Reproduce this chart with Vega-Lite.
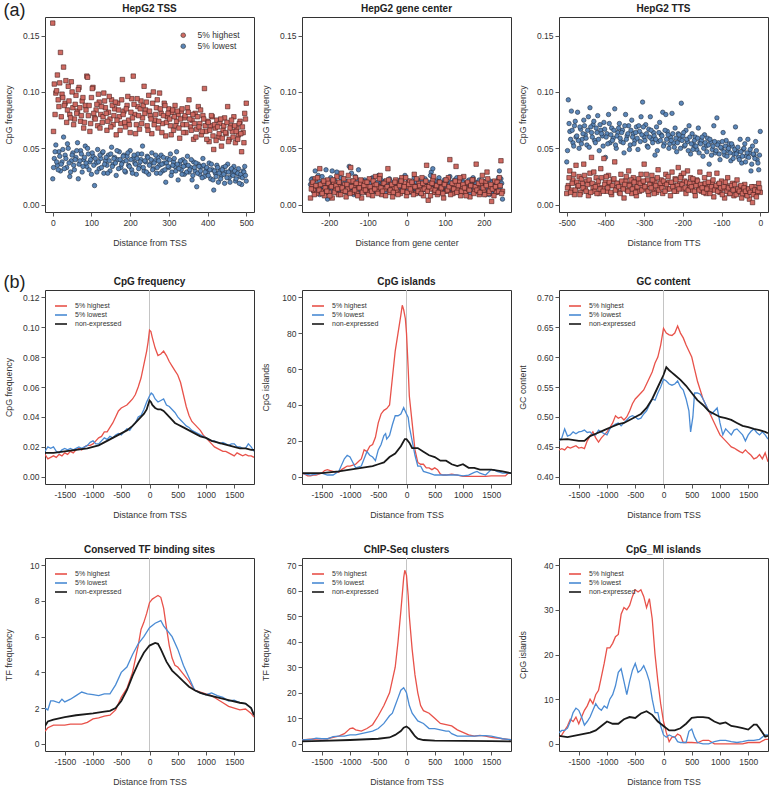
{
"$schema": "https://vega.github.io/schema/vega-lite/v6.json",
"padding": {"left": 3, "top": 1, "right": 0, "bottom": 0},
"config": {
 "font": "Liberation Sans",
 "view": {"stroke": "#333333", "strokeWidth": 1},
 "axis": {"grid": false, "domain": false, "tickColor": "#555555", "tickSize": 4, "labelFontSize": 8.5, "labelColor": "#333333", "labelPadding": 2, "titleFontSize": 8.8, "titleFontWeight": "normal", "titleColor": "#333333", "labelFlush": false, "labelOverlap": false},
 "axisY": {"titleX": -32},
 "axisX": {"titlePadding": 12, "labelOverlap": false},
 "title": {"fontSize": 10, "fontWeight": "bold", "color": "#222222", "offset": 3},
 "legend": {"orient": "top-left", "offset": 11, "title": null, "labelFontSize": 7, "labelColor": "#333333", "symbolType": "M-1.5,0H1.5", "symbolSize": 64, "symbolStrokeWidth": 1.6, "rowPadding": 0, "padding": 0, "labelOffset": 9}
},
"datasets": {
"tss_h": [{"x":0,"y":0.161},{"x":4,"y":0.107},{"x":8,"y":0.099},{"x":12,"y":0.115},{"x":16,"y":0.087},{"x":20,"y":0.135},{"x":24,"y":0.098},{"x":28,"y":0.122},{"x":32,"y":0.09},{"x":36,"y":0.073},{"x":40,"y":0.105},{"x":44,"y":0.08},{"x":48,"y":0.109},{"x":52,"y":0.086},{"x":56,"y":0.076},{"x":60,"y":0.097},{"x":64,"y":0.083},{"x":68,"y":0.104},{"x":72,"y":0.074},{"x":76,"y":0.092},{"x":80,"y":0.068},{"x":84,"y":0.088},{"x":88,"y":0.114},{"x":92,"y":0.079},{"x":96,"y":0.065},{"x":100,"y":0.095},{"x":104,"y":0.104},{"x":108,"y":0.077},{"x":112,"y":0.084},{"x":116,"y":0.07},{"x":120,"y":0.091},{"x":124,"y":0.08},{"x":128,"y":0.073},{"x":132,"y":0.099},{"x":136,"y":0.086},{"x":140,"y":0.066},{"x":144,"y":0.082},{"x":148,"y":0.076},{"x":152,"y":0.093},{"x":156,"y":0.071},{"x":160,"y":0.085},{"x":164,"y":0.062},{"x":168,"y":0.09},{"x":172,"y":0.078},{"x":176,"y":0.072},{"x":180,"y":0.111},{"x":184,"y":0.083},{"x":188,"y":0.069},{"x":192,"y":0.088},{"x":196,"y":0.075},{"x":200,"y":0.064},{"x":204,"y":0.094},{"x":208,"y":0.114},{"x":212,"y":0.08},{"x":216,"y":0.071},{"x":220,"y":0.087},{"x":224,"y":0.067},{"x":228,"y":0.092},{"x":232,"y":0.077},{"x":236,"y":0.105},{"x":240,"y":0.084},{"x":244,"y":0.07},{"x":248,"y":0.097},{"x":252,"y":0.079},{"x":256,"y":0.063},{"x":260,"y":0.1},{"x":264,"y":0.075},{"x":268,"y":0.086},{"x":272,"y":0.068},{"x":276,"y":0.099},{"x":280,"y":0.081},{"x":284,"y":0.072},{"x":288,"y":0.09},{"x":292,"y":0.061},{"x":296,"y":0.078},{"x":300,"y":0.085},{"x":304,"y":0.07},{"x":308,"y":0.082},{"x":312,"y":0.066},{"x":316,"y":0.088},{"x":320,"y":0.074},{"x":324,"y":0.08},{"x":328,"y":0.059},{"x":332,"y":0.083},{"x":336,"y":0.071},{"x":340,"y":0.077},{"x":344,"y":0.064},{"x":348,"y":0.086},{"x":352,"y":0.093},{"x":356,"y":0.069},{"x":360,"y":0.075},{"x":364,"y":0.058},{"x":368,"y":0.081},{"x":372,"y":0.067},{"x":376,"y":0.087},{"x":380,"y":0.072},{"x":384,"y":0.062},{"x":388,"y":0.079},{"x":392,"y":0.103},{"x":396,"y":0.065},{"x":400,"y":0.074},{"x":404,"y":0.056},{"x":408,"y":0.07},{"x":412,"y":0.078},{"x":416,"y":0.049},{"x":420,"y":0.068},{"x":424,"y":0.075},{"x":428,"y":0.06},{"x":432,"y":0.072},{"x":436,"y":0.052},{"x":440,"y":0.066},{"x":444,"y":0.077},{"x":448,"y":0.063},{"x":452,"y":0.087},{"x":456,"y":0.058},{"x":460,"y":0.07},{"x":464,"y":0.065},{"x":468,"y":0.078},{"x":472,"y":0.055},{"x":476,"y":0.068},{"x":480,"y":0.062},{"x":484,"y":0.074},{"x":488,"y":0.047},{"x":492,"y":0.064},{"x":496,"y":0.081},{"x":500,"y":0.09},
{"x":2,"y":0.065},{"x":6,"y":0.08},{"x":10,"y":0.101},{"x":14,"y":0.093},{"x":18,"y":0.108},{"x":22,"y":0.078},{"x":26,"y":0.095},{"x":30,"y":0.088},{"x":34,"y":0.11},{"x":38,"y":0.084},{"x":42,"y":0.092},{"x":46,"y":0.077},{"x":50,"y":0.1},{"x":54,"y":0.071},{"x":58,"y":0.089},{"x":62,"y":0.081},{"x":66,"y":0.102},{"x":70,"y":0.086},{"x":74,"y":0.079},{"x":78,"y":0.095},{"x":82,"y":0.073},{"x":86,"y":0.084},{"x":90,"y":0.113},{"x":94,"y":0.088},{"x":98,"y":0.072},{"x":102,"y":0.103},{"x":106,"y":0.081},{"x":110,"y":0.076},{"x":114,"y":0.089},{"x":118,"y":0.098},{"x":122,"y":0.068},{"x":126,"y":0.087},{"x":130,"y":0.078},{"x":134,"y":0.092},{"x":138,"y":0.081},{"x":142,"y":0.074},{"x":146,"y":0.096},{"x":150,"y":0.069},{"x":154,"y":0.088},{"x":158,"y":0.079},{"x":162,"y":0.091},{"x":166,"y":0.075},{"x":170,"y":0.084},{"x":174,"y":0.066},{"x":178,"y":0.093},{"x":182,"y":0.08},{"x":186,"y":0.073},{"x":190,"y":0.085},{"x":194,"y":0.096},{"x":198,"y":0.071},{"x":202,"y":0.082},{"x":206,"y":0.077},{"x":210,"y":0.089},{"x":214,"y":0.063},{"x":218,"y":0.094},{"x":222,"y":0.079},{"x":226,"y":0.085},{"x":230,"y":0.072},{"x":234,"y":0.088},{"x":238,"y":0.081},{"x":242,"y":0.091},{"x":246,"y":0.066},{"x":250,"y":0.083},{"x":254,"y":0.076},{"x":258,"y":0.09},{"x":262,"y":0.071},{"x":266,"y":0.08},{"x":270,"y":0.093},{"x":274,"y":0.074},{"x":278,"y":0.085},{"x":282,"y":0.064},{"x":286,"y":0.079},{"x":290,"y":0.088},{"x":294,"y":0.073},{"x":298,"y":0.081},{"x":302,"y":0.076},{"x":306,"y":0.062},{"x":310,"y":0.084},{"x":314,"y":0.078},{"x":318,"y":0.07},{"x":322,"y":0.083},{"x":326,"y":0.068},{"x":330,"y":0.076},{"x":334,"y":0.085},{"x":338,"y":0.064},{"x":342,"y":0.079},{"x":346,"y":0.071},{"x":350,"y":0.082},{"x":354,"y":0.076},{"x":358,"y":0.066},{"x":362,"y":0.08},{"x":366,"y":0.072},{"x":370,"y":0.06},{"x":374,"y":0.078},{"x":378,"y":0.069},{"x":382,"y":0.084},{"x":386,"y":0.065},{"x":390,"y":0.076},{"x":394,"y":0.07},{"x":398,"y":0.058},{"x":402,"y":0.073},{"x":406,"y":0.066},{"x":410,"y":0.079},{"x":414,"y":0.061},{"x":418,"y":0.071},{"x":422,"y":0.057},{"x":426,"y":0.069},{"x":430,"y":0.063},{"x":434,"y":0.076},{"x":438,"y":0.059},{"x":442,"y":0.07},{"x":446,"y":0.064},{"x":450,"y":0.073},{"x":454,"y":0.056},{"x":458,"y":0.068},{"x":462,"y":0.075},{"x":466,"y":0.06},{"x":470,"y":0.07},{"x":474,"y":0.065},{"x":478,"y":0.058},{"x":482,"y":0.072},{"x":486,"y":0.063},{"x":490,"y":0.069},{"x":494,"y":0.055},{"x":498,"y":0.076}],
"tss_l": [{"x":0,"y":0.023},{"x":4,"y":0.041},{"x":8,"y":0.053},{"x":12,"y":0.035},{"x":16,"y":0.047},{"x":20,"y":0.03},{"x":24,"y":0.038},{"x":28,"y":0.06},{"x":32,"y":0.044},{"x":36,"y":0.033},{"x":40,"y":0.05},{"x":44,"y":0.025},{"x":48,"y":0.039},{"x":52,"y":0.046},{"x":56,"y":0.031},{"x":60,"y":0.042},{"x":64,"y":0.055},{"x":68,"y":0.036},{"x":72,"y":0.048},{"x":76,"y":0.029},{"x":80,"y":0.04},{"x":84,"y":0.052},{"x":88,"y":0.034},{"x":92,"y":0.045},{"x":96,"y":0.038},{"x":100,"y":0.027},{"x":104,"y":0.043},{"x":108,"y":0.017},{"x":112,"y":0.037},{"x":116,"y":0.049},{"x":120,"y":0.032},{"x":124,"y":0.041},{"x":128,"y":0.046},{"x":132,"y":0.028},{"x":136,"y":0.039},{"x":140,"y":0.035},{"x":144,"y":0.044},{"x":148,"y":0.03},{"x":152,"y":0.051},{"x":156,"y":0.036},{"x":160,"y":0.042},{"x":164,"y":0.026},{"x":168,"y":0.04},{"x":172,"y":0.047},{"x":176,"y":0.033},{"x":180,"y":0.038},{"x":184,"y":0.044},{"x":188,"y":0.029},{"x":192,"y":0.043},{"x":196,"y":0.035},{"x":200,"y":0.048},{"x":204,"y":0.031},{"x":208,"y":0.041},{"x":212,"y":0.037},{"x":216,"y":0.027},{"x":220,"y":0.045},{"x":224,"y":0.034},{"x":228,"y":0.04},{"x":232,"y":0.052},{"x":236,"y":0.03},{"x":240,"y":0.038},{"x":244,"y":0.043},{"x":248,"y":0.027},{"x":252,"y":0.036},{"x":256,"y":0.046},{"x":260,"y":0.032},{"x":264,"y":0.039},{"x":268,"y":0.028},{"x":272,"y":0.042},{"x":276,"y":0.035},{"x":280,"y":0.044},{"x":284,"y":0.03},{"x":288,"y":0.037},{"x":292,"y":0.02},{"x":296,"y":0.041},{"x":300,"y":0.033},{"x":304,"y":0.045},{"x":308,"y":0.029},{"x":312,"y":0.038},{"x":316,"y":0.034},{"x":320,"y":0.047},{"x":324,"y":0.022},{"x":328,"y":0.036},{"x":332,"y":0.031},{"x":336,"y":0.04},{"x":340,"y":0.027},{"x":344,"y":0.035},{"x":348,"y":0.043},{"x":352,"y":0.029},{"x":356,"y":0.033},{"x":360,"y":0.022},{"x":364,"y":0.038},{"x":368,"y":0.03},{"x":372,"y":0.016},{"x":376,"y":0.036},{"x":380,"y":0.027},{"x":384,"y":0.034},{"x":388,"y":0.041},{"x":392,"y":0.025},{"x":396,"y":0.032},{"x":400,"y":0.029},{"x":404,"y":0.037},{"x":408,"y":0.023},{"x":412,"y":0.031},{"x":416,"y":0.013},{"x":420,"y":0.028},{"x":424,"y":0.035},{"x":428,"y":0.02},{"x":432,"y":0.03},{"x":436,"y":0.026},{"x":440,"y":0.033},{"x":444,"y":0.019},{"x":448,"y":0.029},{"x":452,"y":0.036},{"x":456,"y":0.024},{"x":460,"y":0.031},{"x":464,"y":0.027},{"x":468,"y":0.034},{"x":472,"y":0.021},{"x":476,"y":0.028},{"x":480,"y":0.032},{"x":484,"y":0.025},{"x":488,"y":0.018},{"x":492,"y":0.03},{"x":496,"y":0.034},{"x":500,"y":0.021},
{"x":2,"y":0.033},{"x":6,"y":0.047},{"x":10,"y":0.038},{"x":14,"y":0.031},{"x":18,"y":0.043},{"x":22,"y":0.036},{"x":26,"y":0.049},{"x":30,"y":0.032},{"x":34,"y":0.041},{"x":38,"y":0.054},{"x":42,"y":0.037},{"x":46,"y":0.029},{"x":50,"y":0.044},{"x":54,"y":0.035},{"x":58,"y":0.04},{"x":62,"y":0.048},{"x":66,"y":0.023},{"x":70,"y":0.039},{"x":74,"y":0.045},{"x":78,"y":0.034},{"x":82,"y":0.042},{"x":86,"y":0.037},{"x":90,"y":0.05},{"x":94,"y":0.031},{"x":98,"y":0.04},{"x":102,"y":0.046},{"x":106,"y":0.035},{"x":110,"y":0.041},{"x":114,"y":0.029},{"x":118,"y":0.038},{"x":122,"y":0.044},{"x":126,"y":0.033},{"x":130,"y":0.047},{"x":134,"y":0.036},{"x":138,"y":0.042},{"x":142,"y":0.028},{"x":146,"y":0.039},{"x":150,"y":0.045},{"x":154,"y":0.034},{"x":158,"y":0.041},{"x":162,"y":0.037},{"x":166,"y":0.048},{"x":170,"y":0.032},{"x":174,"y":0.04},{"x":178,"y":0.036},{"x":182,"y":0.043},{"x":186,"y":0.03},{"x":190,"y":0.039},{"x":194,"y":0.046},{"x":198,"y":0.034},{"x":202,"y":0.04},{"x":206,"y":0.028},{"x":210,"y":0.044},{"x":214,"y":0.036},{"x":218,"y":0.041},{"x":222,"y":0.032},{"x":226,"y":0.038},{"x":230,"y":0.045},{"x":234,"y":0.033},{"x":238,"y":0.039},{"x":242,"y":0.029},{"x":246,"y":0.042},{"x":250,"y":0.035},{"x":254,"y":0.04},{"x":258,"y":0.031},{"x":262,"y":0.037},{"x":266,"y":0.044},{"x":270,"y":0.033},{"x":274,"y":0.039},{"x":278,"y":0.028},{"x":282,"y":0.036},{"x":286,"y":0.042},{"x":290,"y":0.031},{"x":294,"y":0.037},{"x":298,"y":0.034},{"x":302,"y":0.04},{"x":306,"y":0.026},{"x":310,"y":0.035},{"x":314,"y":0.041},{"x":318,"y":0.03},{"x":322,"y":0.036},{"x":326,"y":0.032},{"x":330,"y":0.039},{"x":334,"y":0.027},{"x":338,"y":0.034},{"x":342,"y":0.038},{"x":346,"y":0.029},{"x":350,"y":0.035},{"x":354,"y":0.031},{"x":358,"y":0.04},{"x":362,"y":0.026},{"x":366,"y":0.033},{"x":370,"y":0.037},{"x":374,"y":0.028},{"x":378,"y":0.034},{"x":382,"y":0.03},{"x":386,"y":0.024},{"x":390,"y":0.035},{"x":394,"y":0.029},{"x":398,"y":0.033},{"x":402,"y":0.026},{"x":406,"y":0.031},{"x":410,"y":0.036},{"x":414,"y":0.022},{"x":418,"y":0.03},{"x":422,"y":0.025},{"x":426,"y":0.033},{"x":430,"y":0.028},{"x":434,"y":0.023},{"x":438,"y":0.031},{"x":442,"y":0.027},{"x":446,"y":0.034},{"x":450,"y":0.024},{"x":454,"y":0.029},{"x":458,"y":0.02},{"x":462,"y":0.032},{"x":466,"y":0.026},{"x":470,"y":0.03},{"x":474,"y":0.023},{"x":478,"y":0.028},{"x":482,"y":0.019},{"x":486,"y":0.027},{"x":490,"y":0.024},{"x":494,"y":0.029},{"x":498,"y":0.026}],
"gc_h": [{"x":-248,"y":0.006},{"x":-244,"y":0.018},{"x":-240,"y":0.013},{"x":-236,"y":0.023},{"x":-232,"y":0.01},{"x":-228,"y":0.016},{"x":-224,"y":0.032},{"x":-220,"y":0.012},{"x":-216,"y":0.019},{"x":-212,"y":0.008},{"x":-208,"y":0.015},{"x":-204,"y":0.022},{"x":-200,"y":0.011},{"x":-196,"y":0.017},{"x":-192,"y":0.006},{"x":-188,"y":0.02},{"x":-184,"y":0.013},{"x":-180,"y":0.025},{"x":-176,"y":0.009},{"x":-172,"y":0.016},{"x":-168,"y":0.028},{"x":-164,"y":0.012},{"x":-160,"y":0.018},{"x":-156,"y":0.007},{"x":-152,"y":0.014},{"x":-148,"y":0.021},{"x":-144,"y":0.033},{"x":-140,"y":0.011},{"x":-136,"y":0.017},{"x":-132,"y":0.024},{"x":-128,"y":0.01},{"x":-124,"y":0.015},{"x":-120,"y":0.019},{"x":-116,"y":0.006},{"x":-112,"y":0.013},{"x":-108,"y":0.02},{"x":-104,"y":0.016},{"x":-100,"y":0.011},{"x":-96,"y":0.023},{"x":-92,"y":0.014},{"x":-88,"y":0.008},{"x":-84,"y":0.018},{"x":-80,"y":0.025},{"x":-76,"y":0.012},{"x":-72,"y":0.016},{"x":-68,"y":0.026},{"x":-64,"y":0.009},{"x":-60,"y":0.019},{"x":-56,"y":0.014},{"x":-52,"y":0.021},{"x":-48,"y":0.032},{"x":-44,"y":0.011},{"x":-40,"y":0.017},{"x":-36,"y":0.007},{"x":-32,"y":0.015},{"x":-28,"y":0.022},{"x":-24,"y":0.012},{"x":-20,"y":0.018},{"x":-16,"y":0.01},{"x":-12,"y":0.024},{"x":-8,"y":0.014},{"x":-4,"y":0.019},{"x":0,"y":0.008},{"x":4,"y":0.016},{"x":8,"y":0.021},{"x":12,"y":0.012},{"x":16,"y":0.017},{"x":20,"y":0.027},{"x":24,"y":0.01},{"x":28,"y":0.015},{"x":32,"y":0.019},{"x":36,"y":0.013},{"x":40,"y":0.024},{"x":44,"y":0.008},{"x":48,"y":0.016},{"x":52,"y":0.035},{"x":56,"y":0.004},{"x":60,"y":0.018},{"x":64,"y":0.014},{"x":68,"y":0.022},{"x":72,"y":0.011},{"x":76,"y":0.017},{"x":80,"y":0.009},{"x":84,"y":0.02},{"x":88,"y":0.013},{"x":92,"y":0.016},{"x":96,"y":0.006},{"x":100,"y":0.019},{"x":104,"y":0.012},{"x":108,"y":0.024},{"x":112,"y":0.04},{"x":116,"y":0.015},{"x":120,"y":0.01},{"x":124,"y":0.018},{"x":128,"y":0.034},{"x":132,"y":0.013},{"x":136,"y":0.021},{"x":140,"y":0.008},{"x":144,"y":0.016},{"x":148,"y":0.025},{"x":152,"y":0.011},{"x":156,"y":0.019},{"x":160,"y":0.014},{"x":164,"y":0.007},{"x":168,"y":0.017},{"x":172,"y":0.022},{"x":176,"y":0.012},{"x":180,"y":0.036},{"x":184,"y":0.015},{"x":188,"y":0.009},{"x":192,"y":0.018},{"x":196,"y":0.026},{"x":200,"y":0.013},{"x":204,"y":0.02},{"x":208,"y":0.029},{"x":212,"y":0.01},{"x":216,"y":0.016},{"x":220,"y":0.003},{"x":224,"y":0.014},{"x":228,"y":0.021},{"x":232,"y":0.011},{"x":236,"y":0.017},{"x":240,"y":0.024},{"x":244,"y":0.039},{"x":248,"y":0.012},
{"x":-246,"y":0.014},{"x":-242,"y":0.02},{"x":-238,"y":0.009},{"x":-234,"y":0.017},{"x":-230,"y":0.024},{"x":-226,"y":0.013},{"x":-222,"y":0.018},{"x":-218,"y":0.01},{"x":-214,"y":0.021},{"x":-210,"y":0.015},{"x":-206,"y":0.012},{"x":-202,"y":0.019},{"x":-198,"y":0.008},{"x":-194,"y":0.016},{"x":-190,"y":0.022},{"x":-186,"y":0.011},{"x":-182,"y":0.017},{"x":-178,"y":0.014},{"x":-174,"y":0.02},{"x":-170,"y":0.009},{"x":-166,"y":0.015},{"x":-162,"y":0.023},{"x":-158,"y":0.012},{"x":-154,"y":0.018},{"x":-150,"y":0.026},{"x":-146,"y":0.01},{"x":-142,"y":0.016},{"x":-138,"y":0.021},{"x":-134,"y":0.013},{"x":-130,"y":0.019},{"x":-126,"y":0.008},{"x":-122,"y":0.015},{"x":-118,"y":0.022},{"x":-114,"y":0.011},{"x":-110,"y":0.017},{"x":-106,"y":0.013},{"x":-102,"y":0.02},{"x":-98,"y":0.009},{"x":-94,"y":0.016},{"x":-90,"y":0.012},{"x":-86,"y":0.021},{"x":-82,"y":0.014},{"x":-78,"y":0.018},{"x":-74,"y":0.01},{"x":-70,"y":0.023},{"x":-66,"y":0.015},{"x":-62,"y":0.012},{"x":-58,"y":0.019},{"x":-54,"y":0.008},{"x":-50,"y":0.016},{"x":-46,"y":0.022},{"x":-42,"y":0.013},{"x":-38,"y":0.018},{"x":-34,"y":0.011},{"x":-30,"y":0.02},{"x":-26,"y":0.015},{"x":-22,"y":0.009},{"x":-18,"y":0.017},{"x":-14,"y":0.021},{"x":-10,"y":0.012},{"x":-6,"y":0.016},{"x":-2,"y":0.024},{"x":2,"y":0.011},{"x":6,"y":0.018},{"x":10,"y":0.014},{"x":14,"y":0.02},{"x":18,"y":0.009},{"x":22,"y":0.016},{"x":26,"y":0.023},{"x":30,"y":0.012},{"x":34,"y":0.017},{"x":38,"y":0.01},{"x":42,"y":0.019},{"x":46,"y":0.014},{"x":50,"y":0.021},{"x":54,"y":0.012},{"x":58,"y":0.016},{"x":62,"y":0.008},{"x":66,"y":0.019},{"x":70,"y":0.025},{"x":74,"y":0.013},{"x":78,"y":0.017},{"x":82,"y":0.011},{"x":86,"y":0.02},{"x":90,"y":0.015},{"x":94,"y":0.01},{"x":98,"y":0.018},{"x":102,"y":0.022},{"x":106,"y":0.013},{"x":110,"y":0.016},{"x":114,"y":0.009},{"x":118,"y":0.019},{"x":122,"y":0.014},{"x":126,"y":0.021},{"x":130,"y":0.011},{"x":134,"y":0.017},{"x":138,"y":0.024},{"x":142,"y":0.012},{"x":146,"y":0.018},{"x":150,"y":0.015},{"x":154,"y":0.008},{"x":158,"y":0.02},{"x":162,"y":0.013},{"x":166,"y":0.017},{"x":170,"y":0.022},{"x":174,"y":0.01},{"x":178,"y":0.016},{"x":182,"y":0.013},{"x":186,"y":0.019},{"x":190,"y":0.011},{"x":194,"y":0.021},{"x":198,"y":0.015},{"x":202,"y":0.009},{"x":206,"y":0.017},{"x":210,"y":0.023},{"x":214,"y":0.012},{"x":218,"y":0.018},{"x":222,"y":0.014},{"x":226,"y":0.008},{"x":230,"y":0.016},{"x":234,"y":0.02},{"x":238,"y":0.012},{"x":242,"y":0.017},{"x":246,"y":0.01}],
"gc_l": [{"x":-248,"y":0.018},{"x":-244,"y":0.023},{"x":-240,"y":0.012},{"x":-236,"y":0.03},{"x":-232,"y":0.015},{"x":-228,"y":0.026},{"x":-224,"y":0.009},{"x":-220,"y":0.019},{"x":-216,"y":0.014},{"x":-212,"y":0.021},{"x":-208,"y":0.031},{"x":-204,"y":0.005},{"x":-200,"y":0.016},{"x":-196,"y":0.024},{"x":-192,"y":0.03},{"x":-188,"y":0.013},{"x":-184,"y":0.018},{"x":-180,"y":0.029},{"x":-176,"y":0.011},{"x":-172,"y":0.02},{"x":-168,"y":0.015},{"x":-164,"y":0.023},{"x":-160,"y":0.017},{"x":-156,"y":0.012},{"x":-152,"y":0.019},{"x":-148,"y":0.034},{"x":-144,"y":0.014},{"x":-140,"y":0.021},{"x":-136,"y":0.009},{"x":-132,"y":0.025},{"x":-128,"y":0.016},{"x":-124,"y":0.031},{"x":-120,"y":0.013},{"x":-116,"y":0.019},{"x":-112,"y":0.015},{"x":-108,"y":0.022},{"x":-104,"y":0.011},{"x":-100,"y":0.017},{"x":-96,"y":0.02},{"x":-92,"y":0.013},{"x":-88,"y":0.024},{"x":-84,"y":0.016},{"x":-80,"y":0.012},{"x":-76,"y":0.019},{"x":-72,"y":0.026},{"x":-68,"y":0.014},{"x":-64,"y":0.018},{"x":-60,"y":0.01},{"x":-56,"y":0.021},{"x":-52,"y":0.015},{"x":-48,"y":0.017},{"x":-44,"y":0.023},{"x":-40,"y":0.012},{"x":-36,"y":0.019},{"x":-32,"y":0.014},{"x":-28,"y":0.02},{"x":-24,"y":0.016},{"x":-20,"y":0.011},{"x":-16,"y":0.022},{"x":-12,"y":0.015},{"x":-8,"y":0.018},{"x":-4,"y":0.026},{"x":0,"y":0.013},{"x":4,"y":0.02},{"x":8,"y":0.016},{"x":12,"y":0.011},{"x":16,"y":0.019},{"x":20,"y":0.024},{"x":24,"y":0.014},{"x":28,"y":0.017},{"x":32,"y":0.021},{"x":36,"y":0.01},{"x":40,"y":0.018},{"x":44,"y":0.015},{"x":48,"y":0.023},{"x":52,"y":0.013},{"x":56,"y":0.019},{"x":60,"y":0.016},{"x":64,"y":0.029},{"x":68,"y":0.032},{"x":72,"y":0.012},{"x":76,"y":0.02},{"x":80,"y":0.015},{"x":84,"y":0.024},{"x":88,"y":0.011},{"x":92,"y":0.018},{"x":96,"y":0.014},{"x":100,"y":0.021},{"x":104,"y":0.016},{"x":108,"y":0.019},{"x":112,"y":0.025},{"x":116,"y":0.013},{"x":120,"y":0.018},{"x":124,"y":0.022},{"x":128,"y":0.015},{"x":132,"y":0.011},{"x":136,"y":0.02},{"x":140,"y":0.017},{"x":144,"y":0.023},{"x":148,"y":0.014},{"x":152,"y":0.019},{"x":156,"y":0.012},{"x":160,"y":0.021},{"x":164,"y":0.016},{"x":168,"y":0.018},{"x":172,"y":0.024},{"x":176,"y":0.013},{"x":180,"y":0.019},{"x":184,"y":0.015},{"x":188,"y":0.022},{"x":192,"y":0.011},{"x":196,"y":0.017},{"x":200,"y":0.02},{"x":204,"y":0.009},{"x":208,"y":0.016},{"x":212,"y":0.013},{"x":216,"y":0.021},{"x":220,"y":0.01},{"x":224,"y":0.018},{"x":228,"y":0.015},{"x":232,"y":0.012},{"x":236,"y":0.019},{"x":240,"y":0.03},{"x":244,"y":0.023},{"x":248,"y":0.005},
{"x":-246,"y":0.022},{"x":-242,"y":0.014},{"x":-238,"y":0.019},{"x":-234,"y":0.011},{"x":-230,"y":0.017},{"x":-226,"y":0.021},{"x":-222,"y":0.013},{"x":-218,"y":0.025},{"x":-214,"y":0.016},{"x":-210,"y":0.01},{"x":-206,"y":0.018},{"x":-202,"y":0.014},{"x":-198,"y":0.02},{"x":-194,"y":0.012},{"x":-190,"y":0.017},{"x":-186,"y":0.022},{"x":-182,"y":0.015},{"x":-178,"y":0.01},{"x":-174,"y":0.019},{"x":-170,"y":0.024},{"x":-166,"y":0.013},{"x":-162,"y":0.017},{"x":-158,"y":0.021},{"x":-154,"y":0.011},{"x":-150,"y":0.018},{"x":-146,"y":0.015},{"x":-142,"y":0.028},{"x":-138,"y":0.012},{"x":-134,"y":0.019},{"x":-130,"y":0.016},{"x":-126,"y":0.022},{"x":-122,"y":0.01},{"x":-118,"y":0.017},{"x":-114,"y":0.021},{"x":-110,"y":0.013},{"x":-106,"y":0.018},{"x":-102,"y":0.015},{"x":-98,"y":0.011},{"x":-94,"y":0.019},{"x":-90,"y":0.023},{"x":-86,"y":0.014},{"x":-82,"y":0.017},{"x":-78,"y":0.012},{"x":-74,"y":0.02},{"x":-70,"y":0.016},{"x":-66,"y":0.022},{"x":-62,"y":0.013},{"x":-58,"y":0.018},{"x":-54,"y":0.011},{"x":-50,"y":0.019},{"x":-46,"y":0.015},{"x":-42,"y":0.021},{"x":-38,"y":0.013},{"x":-34,"y":0.017},{"x":-30,"y":0.01},{"x":-26,"y":0.02},{"x":-22,"y":0.016},{"x":-18,"y":0.013},{"x":-14,"y":0.019},{"x":-10,"y":0.023},{"x":-6,"y":0.012},{"x":-2,"y":0.017},{"x":2,"y":0.014},{"x":6,"y":0.021},{"x":10,"y":0.016},{"x":14,"y":0.012},{"x":18,"y":0.018},{"x":22,"y":0.015},{"x":26,"y":0.02},{"x":30,"y":0.011},{"x":34,"y":0.017},{"x":38,"y":0.022},{"x":42,"y":0.013},{"x":46,"y":0.019},{"x":50,"y":0.016},{"x":54,"y":0.012},{"x":58,"y":0.02},{"x":62,"y":0.026},{"x":66,"y":0.015},{"x":70,"y":0.018},{"x":74,"y":0.011},{"x":78,"y":0.021},{"x":82,"y":0.017},{"x":86,"y":0.013},{"x":90,"y":0.019},{"x":94,"y":0.015},{"x":98,"y":0.022},{"x":102,"y":0.012},{"x":106,"y":0.018},{"x":110,"y":0.014},{"x":114,"y":0.02},{"x":118,"y":0.016},{"x":122,"y":0.011},{"x":126,"y":0.019},{"x":130,"y":0.024},{"x":134,"y":0.014},{"x":138,"y":0.017},{"x":142,"y":0.012},{"x":146,"y":0.02},{"x":150,"y":0.015},{"x":154,"y":0.018},{"x":158,"y":0.013},{"x":162,"y":0.022},{"x":166,"y":0.01},{"x":170,"y":0.017},{"x":174,"y":0.014},{"x":178,"y":0.02},{"x":182,"y":0.016},{"x":186,"y":0.012},{"x":190,"y":0.019},{"x":194,"y":0.015},{"x":198,"y":0.021},{"x":202,"y":0.011},{"x":206,"y":0.018},{"x":210,"y":0.014},{"x":214,"y":0.009},{"x":218,"y":0.017},{"x":222,"y":0.02},{"x":226,"y":0.013},{"x":230,"y":0.016},{"x":234,"y":0.011},{"x":238,"y":0.024},{"x":242,"y":0.015},{"x":246,"y":0.019}],
"tts_h": [{"x":-500,"y":0.01},{"x":-496,"y":0.017},{"x":-492,"y":0.03},{"x":-488,"y":0.013},{"x":-484,"y":0.022},{"x":-480,"y":0.009},{"x":-476,"y":0.035},{"x":-472,"y":0.016},{"x":-468,"y":0.025},{"x":-464,"y":0.011},{"x":-460,"y":0.019},{"x":-456,"y":0.036},{"x":-452,"y":0.014},{"x":-448,"y":0.021},{"x":-444,"y":0.008},{"x":-440,"y":0.028},{"x":-436,"y":0.042},{"x":-432,"y":0.015},{"x":-428,"y":0.012},{"x":-424,"y":0.024},{"x":-420,"y":0.018},{"x":-416,"y":0.01},{"x":-412,"y":0.032},{"x":-408,"y":0.015},{"x":-404,"y":0.041},{"x":-400,"y":0.02},{"x":-396,"y":0.012},{"x":-392,"y":0.026},{"x":-388,"y":0.017},{"x":-384,"y":0.009},{"x":-380,"y":0.022},{"x":-376,"y":0.038},{"x":-372,"y":0.014},{"x":-368,"y":0.019},{"x":-364,"y":0.011},{"x":-360,"y":0.027},{"x":-356,"y":0.016},{"x":-352,"y":0.006},{"x":-348,"y":0.021},{"x":-344,"y":0.013},{"x":-340,"y":0.03},{"x":-336,"y":0.018},{"x":-332,"y":0.01},{"x":-328,"y":0.024},{"x":-324,"y":0.015},{"x":-320,"y":0.008},{"x":-316,"y":0.02},{"x":-312,"y":0.012},{"x":-308,"y":0.027},{"x":-304,"y":0.017},{"x":-300,"y":0.036},{"x":-296,"y":0.014},{"x":-292,"y":0.022},{"x":-288,"y":0.009},{"x":-284,"y":0.018},{"x":-280,"y":0.026},{"x":-276,"y":0.013},{"x":-272,"y":0.02},{"x":-268,"y":0.011},{"x":-264,"y":0.031},{"x":-260,"y":0.016},{"x":-256,"y":0.022},{"x":-252,"y":0.01},{"x":-248,"y":0.019},{"x":-244,"y":0.027},{"x":-240,"y":0.014},{"x":-236,"y":0.02},{"x":-232,"y":0.008},{"x":-228,"y":0.029},{"x":-224,"y":0.017},{"x":-220,"y":0.023},{"x":-216,"y":0.012},{"x":-212,"y":0.033},{"x":-208,"y":0.019},{"x":-204,"y":0.026},{"x":-200,"y":0.014},{"x":-196,"y":0.021},{"x":-192,"y":0.01},{"x":-188,"y":0.03},{"x":-184,"y":0.017},{"x":-180,"y":0.024},{"x":-176,"y":0.013},{"x":-172,"y":0.019},{"x":-168,"y":0.008},{"x":-164,"y":0.022},{"x":-160,"y":0.015},{"x":-156,"y":0.029},{"x":-152,"y":0.012},{"x":-148,"y":0.018},{"x":-144,"y":0.024},{"x":-140,"y":0.01},{"x":-136,"y":0.016},{"x":-132,"y":0.027},{"x":-128,"y":0.013},{"x":-124,"y":0.02},{"x":-120,"y":0.007},{"x":-116,"y":0.015},{"x":-112,"y":0.028},{"x":-108,"y":0.018},{"x":-104,"y":0.011},{"x":-100,"y":0.021},{"x":-96,"y":0.014},{"x":-92,"y":0.006},{"x":-88,"y":0.017},{"x":-84,"y":0.024},{"x":-80,"y":0.01},{"x":-76,"y":0.015},{"x":-72,"y":0.019},{"x":-68,"y":0.008},{"x":-64,"y":0.013},{"x":-60,"y":0.022},{"x":-56,"y":0.011},{"x":-52,"y":0.016},{"x":-48,"y":0.006},{"x":-44,"y":0.012},{"x":-40,"y":0.018},{"x":-36,"y":0.009},{"x":-32,"y":0.014},{"x":-28,"y":0.005},{"x":-24,"y":0.011},{"x":-20,"y":0.002},{"x":-16,"y":0.016},{"x":-12,"y":0.009},{"x":-8,"y":0.013},{"x":-4,"y":0.019},{"x":0,"y":0.011},
{"x":-498,"y":0.015},{"x":-494,"y":0.024},{"x":-490,"y":0.011},{"x":-486,"y":0.019},{"x":-482,"y":0.027},{"x":-478,"y":0.013},{"x":-474,"y":0.02},{"x":-470,"y":0.017},{"x":-466,"y":0.009},{"x":-462,"y":0.023},{"x":-458,"y":0.015},{"x":-454,"y":0.026},{"x":-450,"y":0.012},{"x":-446,"y":0.018},{"x":-442,"y":0.022},{"x":-438,"y":0.011},{"x":-434,"y":0.019},{"x":-430,"y":0.029},{"x":-426,"y":0.016},{"x":-422,"y":0.01},{"x":-418,"y":0.021},{"x":-414,"y":0.014},{"x":-410,"y":0.024},{"x":-406,"y":0.012},{"x":-402,"y":0.018},{"x":-398,"y":0.025},{"x":-394,"y":0.015},{"x":-390,"y":0.02},{"x":-386,"y":0.011},{"x":-382,"y":0.017},{"x":-378,"y":0.023},{"x":-374,"y":0.013},{"x":-370,"y":0.019},{"x":-366,"y":0.016},{"x":-362,"y":0.01},{"x":-358,"y":0.021},{"x":-354,"y":0.014},{"x":-350,"y":0.018},{"x":-346,"y":0.025},{"x":-342,"y":0.012},{"x":-338,"y":0.017},{"x":-334,"y":0.022},{"x":-330,"y":0.014},{"x":-326,"y":0.02},{"x":-322,"y":0.011},{"x":-318,"y":0.016},{"x":-314,"y":0.023},{"x":-310,"y":0.019},{"x":-306,"y":0.013},{"x":-302,"y":0.021},{"x":-298,"y":0.016},{"x":-294,"y":0.027},{"x":-290,"y":0.012},{"x":-286,"y":0.018},{"x":-282,"y":0.015},{"x":-278,"y":0.022},{"x":-274,"y":0.01},{"x":-270,"y":0.017},{"x":-266,"y":0.024},{"x":-262,"y":0.013},{"x":-258,"y":0.019},{"x":-254,"y":0.015},{"x":-250,"y":0.021},{"x":-246,"y":0.012},{"x":-242,"y":0.018},{"x":-238,"y":0.025},{"x":-234,"y":0.014},{"x":-230,"y":0.02},{"x":-226,"y":0.016},{"x":-222,"y":0.012},{"x":-218,"y":0.022},{"x":-214,"y":0.017},{"x":-210,"y":0.014},{"x":-206,"y":0.024},{"x":-202,"y":0.018},{"x":-198,"y":0.028},{"x":-194,"y":0.015},{"x":-190,"y":0.02},{"x":-186,"y":0.013},{"x":-182,"y":0.019},{"x":-178,"y":0.016},{"x":-174,"y":0.023},{"x":-170,"y":0.012},{"x":-166,"y":0.017},{"x":-162,"y":0.021},{"x":-158,"y":0.013},{"x":-154,"y":0.018},{"x":-150,"y":0.015},{"x":-146,"y":0.011},{"x":-142,"y":0.019},{"x":-138,"y":0.014},{"x":-134,"y":0.02},{"x":-130,"y":0.01},{"x":-126,"y":0.016},{"x":-122,"y":0.022},{"x":-118,"y":0.013},{"x":-114,"y":0.017},{"x":-110,"y":0.012},{"x":-106,"y":0.019},{"x":-102,"y":0.015},{"x":-98,"y":0.009},{"x":-94,"y":0.016},{"x":-90,"y":0.02},{"x":-86,"y":0.012},{"x":-82,"y":0.015},{"x":-78,"y":0.01},{"x":-74,"y":0.017},{"x":-70,"y":0.013},{"x":-66,"y":0.018},{"x":-62,"y":0.009},{"x":-58,"y":0.014},{"x":-54,"y":0.012},{"x":-50,"y":0.017},{"x":-46,"y":0.01},{"x":-42,"y":0.015},{"x":-38,"y":0.012},{"x":-34,"y":0.008},{"x":-30,"y":0.014},{"x":-26,"y":0.011},{"x":-22,"y":0.016},{"x":-18,"y":0.009},{"x":-14,"y":0.013},{"x":-10,"y":0.007},{"x":-6,"y":0.012},{"x":-2,"y":0.015}],
"tts_l": [{"x":-500,"y":0.038},{"x":-496,"y":0.093},{"x":-492,"y":0.065},{"x":-488,"y":0.083},{"x":-484,"y":0.055},{"x":-480,"y":0.07},{"x":-476,"y":0.06},{"x":-472,"y":0.082},{"x":-468,"y":0.05},{"x":-464,"y":0.067},{"x":-460,"y":0.058},{"x":-456,"y":0.075},{"x":-452,"y":0.062},{"x":-448,"y":0.053},{"x":-444,"y":0.078},{"x":-440,"y":0.086},{"x":-436,"y":0.064},{"x":-432,"y":0.071},{"x":-428,"y":0.057},{"x":-424,"y":0.068},{"x":-420,"y":0.079},{"x":-416,"y":0.048},{"x":-412,"y":0.066},{"x":-408,"y":0.061},{"x":-404,"y":0.073},{"x":-400,"y":0.042},{"x":-396,"y":0.063},{"x":-392,"y":0.08},{"x":-388,"y":0.055},{"x":-384,"y":0.068},{"x":-380,"y":0.059},{"x":-376,"y":0.085},{"x":-372,"y":0.05},{"x":-368,"y":0.064},{"x":-364,"y":0.072},{"x":-360,"y":0.056},{"x":-356,"y":0.066},{"x":-352,"y":0.046},{"x":-348,"y":0.08},{"x":-344,"y":0.061},{"x":-340,"y":0.07},{"x":-336,"y":0.053},{"x":-332,"y":0.075},{"x":-328,"y":0.063},{"x":-324,"y":0.057},{"x":-320,"y":0.069},{"x":-316,"y":0.049},{"x":-312,"y":0.065},{"x":-308,"y":0.078},{"x":-304,"y":0.091},{"x":-300,"y":0.06},{"x":-296,"y":0.071},{"x":-292,"y":0.052},{"x":-288,"y":0.067},{"x":-284,"y":0.078},{"x":-280,"y":0.058},{"x":-276,"y":0.064},{"x":-272,"y":0.044},{"x":-268,"y":0.069},{"x":-264,"y":0.056},{"x":-260,"y":0.073},{"x":-256,"y":0.062},{"x":-252,"y":0.082},{"x":-248,"y":0.054},{"x":-244,"y":0.08},{"x":-240,"y":0.065},{"x":-236,"y":0.05},{"x":-232,"y":0.06},{"x":-228,"y":0.081},{"x":-224,"y":0.055},{"x":-220,"y":0.068},{"x":-216,"y":0.047},{"x":-212,"y":0.063},{"x":-208,"y":0.058},{"x":-204,"y":0.09},{"x":-200,"y":0.061},{"x":-196,"y":0.052},{"x":-192,"y":0.066},{"x":-188,"y":0.056},{"x":-184,"y":0.07},{"x":-180,"y":0.045},{"x":-176,"y":0.063},{"x":-172,"y":0.053},{"x":-168,"y":0.06},{"x":-164,"y":0.049},{"x":-160,"y":0.068},{"x":-156,"y":0.055},{"x":-152,"y":0.057},{"x":-148,"y":0.043},{"x":-144,"y":0.062},{"x":-140,"y":0.052},{"x":-136,"y":0.059},{"x":-132,"y":0.036},{"x":-128,"y":0.056},{"x":-124,"y":0.049},{"x":-120,"y":0.07},{"x":-116,"y":0.046},{"x":-112,"y":0.077},{"x":-108,"y":0.055},{"x":-104,"y":0.04},{"x":-100,"y":0.05},{"x":-96,"y":0.064},{"x":-92,"y":0.044},{"x":-88,"y":0.057},{"x":-84,"y":0.048},{"x":-80,"y":0.054},{"x":-76,"y":0.039},{"x":-72,"y":0.052},{"x":-68,"y":0.045},{"x":-64,"y":0.069},{"x":-60,"y":0.047},{"x":-56,"y":0.042},{"x":-52,"y":0.058},{"x":-48,"y":0.037},{"x":-44,"y":0.049},{"x":-40,"y":0.054},{"x":-36,"y":0.043},{"x":-32,"y":0.058},{"x":-28,"y":0.046},{"x":-24,"y":0.03},{"x":-20,"y":0.052},{"x":-16,"y":0.044},{"x":-12,"y":0.056},{"x":-8,"y":0.04},{"x":-4,"y":0.031},{"x":0,"y":0.065},
{"x":-498,"y":0.048},{"x":-494,"y":0.072},{"x":-490,"y":0.058},{"x":-486,"y":0.066},{"x":-482,"y":0.052},{"x":-478,"y":0.074},{"x":-474,"y":0.061},{"x":-470,"y":0.057},{"x":-466,"y":0.069},{"x":-462,"y":0.054},{"x":-458,"y":0.063},{"x":-454,"y":0.07},{"x":-450,"y":0.059},{"x":-446,"y":0.066},{"x":-442,"y":0.051},{"x":-438,"y":0.069},{"x":-434,"y":0.06},{"x":-430,"y":0.074},{"x":-426,"y":0.055},{"x":-422,"y":0.064},{"x":-418,"y":0.058},{"x":-414,"y":0.071},{"x":-410,"y":0.063},{"x":-406,"y":0.052},{"x":-402,"y":0.067},{"x":-398,"y":0.06},{"x":-394,"y":0.054},{"x":-390,"y":0.072},{"x":-386,"y":0.062},{"x":-382,"y":0.057},{"x":-378,"y":0.066},{"x":-374,"y":0.053},{"x":-370,"y":0.061},{"x":-366,"y":0.068},{"x":-362,"y":0.059},{"x":-358,"y":0.064},{"x":-354,"y":0.055},{"x":-350,"y":0.07},{"x":-346,"y":0.058},{"x":-342,"y":0.063},{"x":-338,"y":0.049},{"x":-334,"y":0.066},{"x":-330,"y":0.06},{"x":-326,"y":0.054},{"x":-322,"y":0.064},{"x":-318,"y":0.059},{"x":-314,"y":0.07},{"x":-310,"y":0.056},{"x":-306,"y":0.062},{"x":-302,"y":0.069},{"x":-298,"y":0.057},{"x":-294,"y":0.063},{"x":-290,"y":0.051},{"x":-286,"y":0.06},{"x":-282,"y":0.066},{"x":-278,"y":0.055},{"x":-274,"y":0.061},{"x":-270,"y":0.058},{"x":-266,"y":0.048},{"x":-262,"y":0.064},{"x":-258,"y":0.057},{"x":-254,"y":0.061},{"x":-250,"y":0.052},{"x":-246,"y":0.066},{"x":-242,"y":0.058},{"x":-238,"y":0.062},{"x":-234,"y":0.054},{"x":-230,"y":0.057},{"x":-226,"y":0.063},{"x":-222,"y":0.051},{"x":-218,"y":0.059},{"x":-214,"y":0.055},{"x":-210,"y":0.062},{"x":-206,"y":0.05},{"x":-202,"y":0.057},{"x":-198,"y":0.064},{"x":-194,"y":0.053},{"x":-190,"y":0.058},{"x":-186,"y":0.048},{"x":-182,"y":0.06},{"x":-178,"y":0.054},{"x":-174,"y":0.049},{"x":-170,"y":0.057},{"x":-166,"y":0.052},{"x":-162,"y":0.059},{"x":-158,"y":0.046},{"x":-154,"y":0.054},{"x":-150,"y":0.06},{"x":-146,"y":0.05},{"x":-142,"y":0.055},{"x":-138,"y":0.047},{"x":-134,"y":0.053},{"x":-130,"y":0.058},{"x":-126,"y":0.044},{"x":-122,"y":0.052},{"x":-118,"y":0.056},{"x":-114,"y":0.048},{"x":-110,"y":0.053},{"x":-106,"y":0.045},{"x":-102,"y":0.051},{"x":-98,"y":0.056},{"x":-94,"y":0.047},{"x":-90,"y":0.052},{"x":-86,"y":0.043},{"x":-82,"y":0.05},{"x":-78,"y":0.046},{"x":-74,"y":0.054},{"x":-70,"y":0.041},{"x":-66,"y":0.049},{"x":-62,"y":0.045},{"x":-58,"y":0.051},{"x":-54,"y":0.04},{"x":-50,"y":0.047},{"x":-46,"y":0.043},{"x":-42,"y":0.05},{"x":-38,"y":0.038},{"x":-34,"y":0.046},{"x":-30,"y":0.042},{"x":-26,"y":0.049},{"x":-22,"y":0.036},{"x":-18,"y":0.045},{"x":-14,"y":0.041},{"x":-10,"y":0.048},{"x":-6,"y":0.037},{"x":-2,"y":0.044}],
"cpg_h": [{"x":-1850,"y":0.015},{"x":-1800,"y":0.012},{"x":-1750,"y":0.013},{"x":-1700,"y":0.014},{"x":-1650,"y":0.013},{"x":-1600,"y":0.015},{"x":-1550,"y":0.014},{"x":-1500,"y":0.016},{"x":-1450,"y":0.015},{"x":-1400,"y":0.017},{"x":-1350,"y":0.016},{"x":-1300,"y":0.018},{"x":-1250,"y":0.019},{"x":-1200,"y":0.018},{"x":-1150,"y":0.02},{"x":-1100,"y":0.021},{"x":-1050,"y":0.021},{"x":-1000,"y":0.022},{"x":-950,"y":0.024},{"x":-900,"y":0.026},{"x":-850,"y":0.027},{"x":-800,"y":0.03},{"x":-750,"y":0.03},{"x":-700,"y":0.033},{"x":-650,"y":0.036},{"x":-600,"y":0.04},{"x":-550,"y":0.044},{"x":-500,"y":0.046},{"x":-450,"y":0.047},{"x":-400,"y":0.048},{"x":-350,"y":0.05},{"x":-300,"y":0.052},{"x":-250,"y":0.055},{"x":-200,"y":0.06},{"x":-150,"y":0.066},{"x":-100,"y":0.075},{"x":-50,"y":0.084},{"x":-25,"y":0.09},{"x":0,"y":0.098},{"x":25,"y":0.097},{"x":50,"y":0.093},{"x":100,"y":0.086},{"x":150,"y":0.081},{"x":200,"y":0.082},{"x":250,"y":0.084},{"x":300,"y":0.081},{"x":350,"y":0.077},{"x":400,"y":0.074},{"x":450,"y":0.071},{"x":500,"y":0.068},{"x":550,"y":0.063},{"x":600,"y":0.055},{"x":650,"y":0.047},{"x":700,"y":0.041},{"x":750,"y":0.037},{"x":800,"y":0.035},{"x":850,"y":0.033},{"x":900,"y":0.031},{"x":950,"y":0.028},{"x":1000,"y":0.026},{"x":1050,"y":0.024},{"x":1100,"y":0.022},{"x":1150,"y":0.02},{"x":1200,"y":0.019},{"x":1250,"y":0.018},{"x":1300,"y":0.017},{"x":1350,"y":0.017},{"x":1400,"y":0.016},{"x":1450,"y":0.015},{"x":1500,"y":0.014},{"x":1550,"y":0.016},{"x":1600,"y":0.015},{"x":1650,"y":0.014},{"x":1700,"y":0.015},{"x":1750,"y":0.014},{"x":1800,"y":0.014},{"x":1850,"y":0.013}],
"cpg_l": [{"x":-1850,"y":0.017},{"x":-1800,"y":0.02},{"x":-1750,"y":0.019},{"x":-1700,"y":0.02},{"x":-1650,"y":0.017},{"x":-1600,"y":0.016},{"x":-1550,"y":0.018},{"x":-1500,"y":0.019},{"x":-1450,"y":0.018},{"x":-1400,"y":0.019},{"x":-1350,"y":0.018},{"x":-1300,"y":0.019},{"x":-1250,"y":0.02},{"x":-1200,"y":0.019},{"x":-1150,"y":0.02},{"x":-1100,"y":0.021},{"x":-1050,"y":0.023},{"x":-1000,"y":0.024},{"x":-950,"y":0.022},{"x":-900,"y":0.022},{"x":-850,"y":0.024},{"x":-800,"y":0.026},{"x":-750,"y":0.025},{"x":-700,"y":0.027},{"x":-650,"y":0.026},{"x":-600,"y":0.028},{"x":-550,"y":0.029},{"x":-500,"y":0.028},{"x":-450,"y":0.03},{"x":-400,"y":0.032},{"x":-350,"y":0.031},{"x":-300,"y":0.034},{"x":-250,"y":0.036},{"x":-200,"y":0.04},{"x":-150,"y":0.041},{"x":-100,"y":0.045},{"x":-50,"y":0.05},{"x":0,"y":0.054},{"x":30,"y":0.056},{"x":60,"y":0.055},{"x":100,"y":0.052},{"x":150,"y":0.05},{"x":200,"y":0.051},{"x":250,"y":0.052},{"x":300,"y":0.048},{"x":350,"y":0.047},{"x":400,"y":0.045},{"x":450,"y":0.043},{"x":500,"y":0.04},{"x":550,"y":0.038},{"x":600,"y":0.036},{"x":650,"y":0.034},{"x":700,"y":0.033},{"x":750,"y":0.031},{"x":800,"y":0.03},{"x":850,"y":0.029},{"x":900,"y":0.028},{"x":950,"y":0.027},{"x":1000,"y":0.026},{"x":1050,"y":0.025},{"x":1100,"y":0.024},{"x":1150,"y":0.024},{"x":1200,"y":0.023},{"x":1250,"y":0.022},{"x":1300,"y":0.023},{"x":1350,"y":0.022},{"x":1400,"y":0.021},{"x":1450,"y":0.022},{"x":1500,"y":0.022},{"x":1550,"y":0.02},{"x":1600,"y":0.02},{"x":1650,"y":0.019},{"x":1700,"y":0.019},{"x":1750,"y":0.022},{"x":1800,"y":0.02},{"x":1850,"y":0.017}],
"cpg_n": [{"x":-1850,"y":0.016},{"x":-1700,"y":0.016},{"x":-1500,"y":0.017},{"x":-1300,"y":0.018},{"x":-1100,"y":0.019},{"x":-1000,"y":0.02},{"x":-900,"y":0.021},{"x":-800,"y":0.023},{"x":-700,"y":0.025},{"x":-600,"y":0.027},{"x":-500,"y":0.029},{"x":-400,"y":0.031},{"x":-300,"y":0.034},{"x":-200,"y":0.038},{"x":-150,"y":0.04},{"x":-100,"y":0.042},{"x":-50,"y":0.045},{"x":0,"y":0.051},{"x":25,"y":0.05},{"x":50,"y":0.048},{"x":100,"y":0.046},{"x":150,"y":0.045},{"x":200,"y":0.045},{"x":250,"y":0.044},{"x":300,"y":0.042},{"x":350,"y":0.04},{"x":400,"y":0.038},{"x":450,"y":0.036},{"x":500,"y":0.035},{"x":600,"y":0.033},{"x":700,"y":0.031},{"x":800,"y":0.029},{"x":900,"y":0.027},{"x":1000,"y":0.026},{"x":1100,"y":0.024},{"x":1200,"y":0.023},{"x":1300,"y":0.022},{"x":1400,"y":0.021},{"x":1500,"y":0.02},{"x":1600,"y":0.019},{"x":1700,"y":0.019},{"x":1800,"y":0.018},{"x":1850,"y":0.018}],
"isl_h": [{"x":-1850,"y":2},{"x":-1800,"y":1.5},{"x":-1750,"y":0.5},{"x":-1700,"y":0.5},{"x":-1650,"y":1},{"x":-1600,"y":1},{"x":-1550,"y":1.5},{"x":-1500,"y":2},{"x":-1450,"y":3.5},{"x":-1400,"y":4},{"x":-1350,"y":3.5},{"x":-1300,"y":3},{"x":-1250,"y":2.5},{"x":-1200,"y":2.5},{"x":-1150,"y":4},{"x":-1100,"y":5},{"x":-1050,"y":6},{"x":-1000,"y":6},{"x":-950,"y":6.5},{"x":-900,"y":7},{"x":-850,"y":8.5},{"x":-800,"y":10},{"x":-750,"y":15},{"x":-700,"y":14},{"x":-650,"y":17},{"x":-600,"y":18},{"x":-550,"y":22},{"x":-500,"y":30},{"x":-450,"y":35},{"x":-400,"y":37},{"x":-350,"y":38},{"x":-300,"y":40},{"x":-250,"y":55},{"x":-200,"y":70},{"x":-150,"y":80},{"x":-100,"y":90},{"x":-75,"y":95.5},{"x":-50,"y":93},{"x":-20,"y":88},{"x":0,"y":80},{"x":30,"y":60},{"x":50,"y":45},{"x":100,"y":30},{"x":150,"y":15},{"x":200,"y":8},{"x":250,"y":7},{"x":300,"y":7},{"x":350,"y":5},{"x":400,"y":5},{"x":450,"y":4},{"x":500,"y":5},{"x":550,"y":4},{"x":600,"y":1.5},{"x":650,"y":1},{"x":700,"y":1},{"x":800,"y":1.5},{"x":900,"y":1},{"x":1000,"y":0.3},{"x":1100,"y":0.3},{"x":1200,"y":0.3},{"x":1300,"y":0.3},{"x":1400,"y":0.3},{"x":1500,"y":0.5},{"x":1600,"y":0.5},{"x":1700,"y":0.5},{"x":1750,"y":0.5},{"x":1800,"y":2},{"x":1850,"y":2}],
"isl_l": [{"x":-1850,"y":2},{"x":-1700,"y":1},{"x":-1600,"y":1.5},{"x":-1500,"y":2},{"x":-1400,"y":1},{"x":-1300,"y":1},{"x":-1200,"y":3},{"x":-1100,"y":10},{"x":-1050,"y":12},{"x":-1000,"y":11},{"x":-950,"y":8},{"x":-900,"y":5},{"x":-800,"y":6},{"x":-750,"y":10},{"x":-700,"y":14},{"x":-650,"y":12},{"x":-600,"y":11},{"x":-550,"y":9},{"x":-500,"y":15},{"x":-450,"y":18},{"x":-400,"y":23},{"x":-370,"y":24},{"x":-350,"y":21},{"x":-300,"y":23},{"x":-250,"y":29},{"x":-200,"y":34},{"x":-150,"y":34},{"x":-100,"y":35},{"x":-50,"y":38.5},{"x":0,"y":35},{"x":30,"y":33},{"x":50,"y":28},{"x":100,"y":20},{"x":150,"y":12},{"x":200,"y":6},{"x":250,"y":6},{"x":300,"y":3},{"x":400,"y":2},{"x":500,"y":1},{"x":600,"y":1},{"x":700,"y":1},{"x":800,"y":1},{"x":900,"y":1},{"x":1000,"y":0.5},{"x":1100,"y":1},{"x":1200,"y":2.5},{"x":1250,"y":3},{"x":1300,"y":2},{"x":1400,"y":1},{"x":1500,"y":4},{"x":1550,"y":4},{"x":1600,"y":3},{"x":1700,"y":2},{"x":1850,"y":2}],
"isl_n": [{"x":-1850,"y":2},{"x":-1500,"y":2},{"x":-1200,"y":3},{"x":-1000,"y":4},{"x":-800,"y":5},{"x":-600,"y":6},{"x":-500,"y":7},{"x":-400,"y":8},{"x":-300,"y":11},{"x":-200,"y":13},{"x":-100,"y":17},{"x":-30,"y":21},{"x":0,"y":21},{"x":50,"y":19},{"x":100,"y":16},{"x":200,"y":16},{"x":300,"y":14},{"x":400,"y":12},{"x":500,"y":11},{"x":600,"y":9},{"x":700,"y":9},{"x":800,"y":7},{"x":900,"y":6},{"x":1000,"y":7},{"x":1100,"y":5},{"x":1200,"y":5},{"x":1300,"y":4},{"x":1500,"y":4},{"x":1700,"y":3},{"x":1850,"y":2}],
"gcc_h": [{"x":-1850,"y":0.445},{"x":-1800,"y":0.447},{"x":-1750,"y":0.445},{"x":-1700,"y":0.45},{"x":-1650,"y":0.448},{"x":-1600,"y":0.45},{"x":-1550,"y":0.452},{"x":-1500,"y":0.448},{"x":-1450,"y":0.449},{"x":-1400,"y":0.447},{"x":-1350,"y":0.46},{"x":-1300,"y":0.468},{"x":-1250,"y":0.475},{"x":-1200,"y":0.465},{"x":-1150,"y":0.458},{"x":-1100,"y":0.465},{"x":-1050,"y":0.47},{"x":-1000,"y":0.475},{"x":-950,"y":0.482},{"x":-900,"y":0.49},{"x":-850,"y":0.502},{"x":-800,"y":0.498},{"x":-750,"y":0.5},{"x":-700,"y":0.495},{"x":-650,"y":0.5},{"x":-600,"y":0.51},{"x":-550,"y":0.522},{"x":-500,"y":0.53},{"x":-450,"y":0.535},{"x":-400,"y":0.54},{"x":-350,"y":0.545},{"x":-300,"y":0.555},{"x":-250,"y":0.565},{"x":-200,"y":0.575},{"x":-150,"y":0.59},{"x":-100,"y":0.6},{"x":-50,"y":0.62},{"x":0,"y":0.648},{"x":50,"y":0.64},{"x":100,"y":0.637},{"x":150,"y":0.636},{"x":200,"y":0.64},{"x":250,"y":0.652},{"x":300,"y":0.64},{"x":350,"y":0.632},{"x":400,"y":0.62},{"x":450,"y":0.61},{"x":500,"y":0.6},{"x":550,"y":0.58},{"x":600,"y":0.56},{"x":650,"y":0.545},{"x":700,"y":0.53},{"x":750,"y":0.52},{"x":800,"y":0.51},{"x":850,"y":0.5},{"x":900,"y":0.49},{"x":950,"y":0.48},{"x":1000,"y":0.47},{"x":1050,"y":0.465},{"x":1100,"y":0.46},{"x":1150,"y":0.455},{"x":1200,"y":0.45},{"x":1250,"y":0.448},{"x":1300,"y":0.445},{"x":1350,"y":0.442},{"x":1400,"y":0.44},{"x":1450,"y":0.445},{"x":1500,"y":0.44},{"x":1550,"y":0.436},{"x":1600,"y":0.43},{"x":1650,"y":0.432},{"x":1700,"y":0.437},{"x":1750,"y":0.43},{"x":1800,"y":0.44},{"x":1850,"y":0.425}],
"gcc_l": [{"x":-1850,"y":0.46},{"x":-1800,"y":0.465},{"x":-1750,"y":0.48},{"x":-1700,"y":0.468},{"x":-1650,"y":0.47},{"x":-1600,"y":0.475},{"x":-1550,"y":0.472},{"x":-1500,"y":0.475},{"x":-1450,"y":0.476},{"x":-1400,"y":0.478},{"x":-1350,"y":0.474},{"x":-1300,"y":0.475},{"x":-1250,"y":0.47},{"x":-1200,"y":0.47},{"x":-1150,"y":0.478},{"x":-1100,"y":0.475},{"x":-1050,"y":0.472},{"x":-1000,"y":0.47},{"x":-950,"y":0.48},{"x":-900,"y":0.485},{"x":-850,"y":0.488},{"x":-800,"y":0.49},{"x":-750,"y":0.485},{"x":-700,"y":0.49},{"x":-650,"y":0.495},{"x":-600,"y":0.5},{"x":-550,"y":0.502},{"x":-500,"y":0.5},{"x":-450,"y":0.496},{"x":-400,"y":0.498},{"x":-350,"y":0.505},{"x":-300,"y":0.51},{"x":-250,"y":0.52},{"x":-200,"y":0.53},{"x":-150,"y":0.528},{"x":-100,"y":0.54},{"x":-50,"y":0.55},{"x":0,"y":0.563},{"x":50,"y":0.56},{"x":100,"y":0.555},{"x":150,"y":0.553},{"x":200,"y":0.555},{"x":250,"y":0.56},{"x":300,"y":0.55},{"x":350,"y":0.545},{"x":400,"y":0.53},{"x":450,"y":0.51},{"x":480,"y":0.475},{"x":520,"y":0.5},{"x":550,"y":0.54},{"x":600,"y":0.54},{"x":650,"y":0.538},{"x":700,"y":0.53},{"x":750,"y":0.52},{"x":800,"y":0.51},{"x":850,"y":0.505},{"x":900,"y":0.51},{"x":950,"y":0.515},{"x":1000,"y":0.49},{"x":1050,"y":0.47},{"x":1100,"y":0.48},{"x":1150,"y":0.475},{"x":1200,"y":0.47},{"x":1250,"y":0.478},{"x":1300,"y":0.48},{"x":1350,"y":0.475},{"x":1400,"y":0.47},{"x":1450,"y":0.46},{"x":1500,"y":0.47},{"x":1550,"y":0.476},{"x":1600,"y":0.48},{"x":1650,"y":0.474},{"x":1700,"y":0.47},{"x":1750,"y":0.475},{"x":1800,"y":0.47},{"x":1850,"y":0.463}],
"gcc_n": [{"x":-1850,"y":0.462},{"x":-1700,"y":0.463},{"x":-1500,"y":0.46},{"x":-1400,"y":0.46},{"x":-1300,"y":0.468},{"x":-1200,"y":0.472},{"x":-1100,"y":0.476},{"x":-1000,"y":0.48},{"x":-900,"y":0.484},{"x":-800,"y":0.488},{"x":-700,"y":0.49},{"x":-600,"y":0.495},{"x":-500,"y":0.5},{"x":-400,"y":0.505},{"x":-300,"y":0.515},{"x":-200,"y":0.53},{"x":-100,"y":0.55},{"x":0,"y":0.57},{"x":50,"y":0.583},{"x":100,"y":0.578},{"x":150,"y":0.574},{"x":200,"y":0.57},{"x":300,"y":0.562},{"x":400,"y":0.552},{"x":500,"y":0.54},{"x":600,"y":0.528},{"x":700,"y":0.52},{"x":800,"y":0.51},{"x":900,"y":0.505},{"x":1000,"y":0.5},{"x":1100,"y":0.498},{"x":1200,"y":0.495},{"x":1300,"y":0.49},{"x":1400,"y":0.485},{"x":1500,"y":0.483},{"x":1600,"y":0.48},{"x":1700,"y":0.478},{"x":1800,"y":0.475},{"x":1850,"y":0.473}],
"tf_h": [{"x":-1850,"y":0.7},{"x":-1800,"y":0.9},{"x":-1700,"y":1.05},{"x":-1600,"y":1.05},{"x":-1500,"y":1.05},{"x":-1400,"y":1.1},{"x":-1300,"y":1.1},{"x":-1200,"y":1.1},{"x":-1100,"y":1.2},{"x":-1000,"y":1.4},{"x":-900,"y":1.45},{"x":-800,"y":1.55},{"x":-700,"y":1.6},{"x":-600,"y":1.9},{"x":-500,"y":2.6},{"x":-400,"y":3.1},{"x":-300,"y":4.0},{"x":-200,"y":5.5},{"x":-150,"y":6.4},{"x":-100,"y":6.8},{"x":-50,"y":7.3},{"x":0,"y":7.9},{"x":50,"y":8.1},{"x":100,"y":8.2},{"x":150,"y":8.3},{"x":200,"y":8.2},{"x":250,"y":7.6},{"x":300,"y":6.5},{"x":350,"y":5.5},{"x":400,"y":4.8},{"x":450,"y":4.4},{"x":500,"y":4.3},{"x":600,"y":3.9},{"x":700,"y":3.5},{"x":800,"y":3.0},{"x":900,"y":2.9},{"x":1000,"y":2.8},{"x":1100,"y":2.7},{"x":1200,"y":2.5},{"x":1300,"y":2.3},{"x":1400,"y":2.1},{"x":1500,"y":2.0},{"x":1600,"y":1.9},{"x":1700,"y":1.95},{"x":1800,"y":1.7},{"x":1850,"y":1.5}],
"tf_l": [{"x":-1850,"y":2.0},{"x":-1800,"y":1.9},{"x":-1750,"y":2.4},{"x":-1700,"y":2.4},{"x":-1600,"y":2.3},{"x":-1550,"y":2.5},{"x":-1500,"y":2.35},{"x":-1400,"y":2.5},{"x":-1300,"y":2.7},{"x":-1200,"y":2.9},{"x":-1100,"y":2.8},{"x":-1000,"y":2.75},{"x":-900,"y":2.7},{"x":-800,"y":2.8},{"x":-700,"y":2.8},{"x":-600,"y":3.3},{"x":-500,"y":4.0},{"x":-400,"y":4.3},{"x":-300,"y":5.0},{"x":-200,"y":5.6},{"x":-100,"y":6.0},{"x":0,"y":6.5},{"x":100,"y":6.75},{"x":200,"y":6.9},{"x":250,"y":6.6},{"x":300,"y":6.4},{"x":400,"y":6.0},{"x":500,"y":5.3},{"x":600,"y":4.4},{"x":700,"y":3.7},{"x":800,"y":3.0},{"x":900,"y":2.85},{"x":1000,"y":2.75},{"x":1100,"y":2.85},{"x":1200,"y":2.7},{"x":1300,"y":2.6},{"x":1400,"y":2.4},{"x":1500,"y":2.45},{"x":1600,"y":2.3},{"x":1700,"y":2.25},{"x":1800,"y":2.0},{"x":1850,"y":1.6}],
"tf_n": [{"x":-1850,"y":1.0},{"x":-1800,"y":1.25},{"x":-1700,"y":1.35},{"x":-1500,"y":1.5},{"x":-1300,"y":1.6},{"x":-1000,"y":1.7},{"x":-800,"y":1.8},{"x":-700,"y":1.85},{"x":-600,"y":2.0},{"x":-500,"y":2.4},{"x":-400,"y":3.0},{"x":-300,"y":3.8},{"x":-200,"y":4.5},{"x":-100,"y":5.1},{"x":0,"y":5.5},{"x":100,"y":5.65},{"x":150,"y":5.6},{"x":200,"y":5.3},{"x":300,"y":4.6},{"x":400,"y":4.1},{"x":500,"y":3.8},{"x":600,"y":3.5},{"x":700,"y":3.2},{"x":800,"y":3.0},{"x":900,"y":2.85},{"x":1000,"y":2.75},{"x":1200,"y":2.6},{"x":1400,"y":2.45},{"x":1600,"y":2.3},{"x":1700,"y":2.25},{"x":1800,"y":2.0},{"x":1850,"y":1.6}],
"chip_h": [{"x":-1850,"y":1.5},{"x":-1700,"y":1.8},{"x":-1500,"y":2},{"x":-1400,"y":2},{"x":-1300,"y":2.5},{"x":-1200,"y":3},{"x":-1100,"y":4},{"x":-1000,"y":6},{"x":-950,"y":6.2},{"x":-900,"y":5.5},{"x":-800,"y":5},{"x":-700,"y":6},{"x":-600,"y":7.5},{"x":-500,"y":11},{"x":-400,"y":15},{"x":-300,"y":20},{"x":-200,"y":30},{"x":-150,"y":40},{"x":-100,"y":52},{"x":-50,"y":65},{"x":-30,"y":68},{"x":0,"y":66},{"x":30,"y":58},{"x":50,"y":50},{"x":100,"y":37},{"x":150,"y":27},{"x":200,"y":20},{"x":250,"y":15},{"x":300,"y":13},{"x":400,"y":12},{"x":450,"y":11},{"x":500,"y":10},{"x":600,"y":8},{"x":700,"y":7.5},{"x":800,"y":7},{"x":900,"y":5.5},{"x":1000,"y":4.5},{"x":1100,"y":3.5},{"x":1200,"y":3},{"x":1300,"y":3.3},{"x":1400,"y":3},{"x":1500,"y":2.5},{"x":1600,"y":2.3},{"x":1700,"y":2},{"x":1850,"y":1.6}],
"chip_l": [{"x":-1850,"y":1.5},{"x":-1700,"y":1.7},{"x":-1600,"y":2.2},{"x":-1500,"y":2},{"x":-1400,"y":2},{"x":-1300,"y":2.8},{"x":-1200,"y":3},{"x":-1100,"y":3},{"x":-1000,"y":3.5},{"x":-900,"y":3.5},{"x":-800,"y":4},{"x":-700,"y":4.5},{"x":-600,"y":5},{"x":-500,"y":6},{"x":-400,"y":8},{"x":-300,"y":11},{"x":-250,"y":12},{"x":-200,"y":15},{"x":-150,"y":18},{"x":-100,"y":21},{"x":-50,"y":22},{"x":0,"y":20},{"x":50,"y":15},{"x":100,"y":12},{"x":200,"y":9},{"x":300,"y":8},{"x":400,"y":6},{"x":500,"y":6},{"x":600,"y":5.5},{"x":700,"y":5},{"x":750,"y":5},{"x":800,"y":4},{"x":900,"y":3},{"x":1000,"y":3},{"x":1100,"y":3},{"x":1200,"y":3},{"x":1300,"y":3.2},{"x":1400,"y":3.2},{"x":1500,"y":3},{"x":1600,"y":2.5},{"x":1700,"y":2},{"x":1850,"y":1.6}],
"chip_n": [{"x":-1850,"y":1},{"x":-1500,"y":1.2},{"x":-1000,"y":1.5},{"x":-700,"y":1.8},{"x":-500,"y":2},{"x":-300,"y":2.5},{"x":-200,"y":3.5},{"x":-100,"y":5},{"x":-50,"y":6.3},{"x":0,"y":6.8},{"x":50,"y":6},{"x":100,"y":4.5},{"x":150,"y":3},{"x":200,"y":2},{"x":300,"y":1.5},{"x":500,"y":1.3},{"x":1000,"y":1.2},{"x":1500,"y":1.1},{"x":1850,"y":1.0}],
"mi_h": [{"x":-1850,"y":1.5},{"x":-1800,"y":2},{"x":-1750,"y":3},{"x":-1700,"y":4},{"x":-1650,"y":5.5},{"x":-1600,"y":5},{"x":-1550,"y":6},{"x":-1500,"y":4.5},{"x":-1450,"y":6},{"x":-1400,"y":7.5},{"x":-1350,"y":8.5},{"x":-1300,"y":10},{"x":-1250,"y":9},{"x":-1200,"y":11},{"x":-1150,"y":12},{"x":-1100,"y":15},{"x":-1050,"y":18},{"x":-1000,"y":21.5},{"x":-950,"y":21.5},{"x":-900,"y":22.5},{"x":-850,"y":24},{"x":-800,"y":24.5},{"x":-750,"y":29},{"x":-700,"y":30.5},{"x":-650,"y":30},{"x":-600,"y":31},{"x":-550,"y":33},{"x":-500,"y":34.5},{"x":-450,"y":34},{"x":-400,"y":34.5},{"x":-350,"y":33},{"x":-300,"y":30.5},{"x":-250,"y":32.5},{"x":-200,"y":28},{"x":-150,"y":20},{"x":-100,"y":14},{"x":-50,"y":9},{"x":0,"y":5},{"x":50,"y":2.5},{"x":100,"y":0.5},{"x":150,"y":1.5},{"x":200,"y":1.5},{"x":250,"y":2.2},{"x":300,"y":1.8},{"x":350,"y":0.3},{"x":400,"y":0.3},{"x":500,"y":0.3},{"x":600,"y":0.2},{"x":700,"y":0.8},{"x":800,"y":0.8},{"x":900,"y":0},{"x":1000,"y":0},{"x":1200,"y":0},{"x":1300,"y":0},{"x":1400,"y":0},{"x":1500,"y":0.3},{"x":1600,"y":0.3},{"x":1700,"y":0.3},{"x":1800,"y":1},{"x":1850,"y":1}],
"mi_l": [{"x":-1850,"y":2.5},{"x":-1800,"y":3},{"x":-1750,"y":3},{"x":-1700,"y":3.5},{"x":-1650,"y":5},{"x":-1600,"y":7},{"x":-1550,"y":8},{"x":-1500,"y":7.5},{"x":-1450,"y":6},{"x":-1400,"y":4.2},{"x":-1350,"y":5},{"x":-1300,"y":6},{"x":-1250,"y":7.5},{"x":-1200,"y":9},{"x":-1150,"y":8},{"x":-1100,"y":7.5},{"x":-1050,"y":8.5},{"x":-1000,"y":8},{"x":-950,"y":10},{"x":-900,"y":11},{"x":-850,"y":13},{"x":-800,"y":16},{"x":-750,"y":16.8},{"x":-700,"y":14},{"x":-650,"y":11},{"x":-600,"y":14},{"x":-550,"y":16.5},{"x":-500,"y":18},{"x":-450,"y":16},{"x":-400,"y":16.5},{"x":-350,"y":17.5},{"x":-300,"y":16},{"x":-250,"y":14},{"x":-200,"y":10},{"x":-150,"y":7},{"x":-100,"y":7},{"x":-50,"y":4},{"x":0,"y":2},{"x":50,"y":1.5},{"x":100,"y":2},{"x":150,"y":1.7},{"x":200,"y":1.5},{"x":250,"y":0.5},{"x":300,"y":0.3},{"x":400,"y":0.3},{"x":450,"y":2.8},{"x":500,"y":3.3},{"x":550,"y":1.5},{"x":600,"y":0.3},{"x":700,"y":0},{"x":800,"y":0},{"x":900,"y":0.5},{"x":1000,"y":0.8},{"x":1100,"y":0.8},{"x":1200,"y":0.5},{"x":1300,"y":0.3},{"x":1400,"y":0.5},{"x":1500,"y":0.8},{"x":1600,"y":0.8},{"x":1700,"y":1},{"x":1800,"y":2},{"x":1850,"y":2}],
"mi_n": [{"x":-1850,"y":1.8},{"x":-1700,"y":1.5},{"x":-1500,"y":2},{"x":-1300,"y":2.5},{"x":-1200,"y":3},{"x":-1100,"y":4},{"x":-1000,"y":5},{"x":-900,"y":4.5},{"x":-800,"y":4.5},{"x":-700,"y":5.5},{"x":-600,"y":6},{"x":-500,"y":5.8},{"x":-400,"y":6.8},{"x":-300,"y":7.3},{"x":-200,"y":6.5},{"x":-100,"y":5},{"x":0,"y":4},{"x":100,"y":3},{"x":200,"y":3},{"x":300,"y":3.5},{"x":400,"y":4.5},{"x":500,"y":5.8},{"x":600,"y":6},{"x":700,"y":6},{"x":800,"y":5.8},{"x":900,"y":5},{"x":1000,"y":4.5},{"x":1100,"y":4.8},{"x":1200,"y":4},{"x":1300,"y":3.8},{"x":1400,"y":3.5},{"x":1500,"y":3.2},{"x":1600,"y":4.3},{"x":1650,"y":4.3},{"x":1700,"y":3.5},{"x":1800,"y":1.6},{"x":1850,"y":1.8}]
},
"spacing": 26,
"resolve": {"scale": {"color": "independent"}, "legend": {"color": "independent"}},
"vconcat": [
{
 "title": {"text": "(a)", "anchor": "start", "fontSize": 18, "fontWeight": "normal", "color": "#222222", "offset": -16},
 "spacing": 5,
 "resolve": {"scale": {"color": "independent"}, "legend": {"color": "independent"}},
 "hconcat": [
  {"title": "HepG2 TSS", "width": 209, "height": 195,
   "encoding": {"x": {"field": "x", "type": "quantitative", "title": "Distance from TSS", "scale": {"domain": [-20, 520], "nice": false, "zero": false}, "axis": {"values": [0, 100, 200, 300, 400, 500], "labelExpr": "toString(datum.value)"}},
                "y": {"field": "y", "type": "quantitative", "title": "CpG frequency", "scale": {"domain": [-0.0064, 0.1664], "nice": false, "zero": false}, "axis": {"values": [0, 0.05, 0.1, 0.15], "format": ".2f"}}},
   "layer": [
    {"data": {"name": "tss_l"}, "mark": {"type": "point", "shape": "circle", "filled": true, "size": 20, "stroke": "#1e2d42", "strokeWidth": 0.6, "opacity": 1},
     "encoding": {"color": {"datum": "5% lowest", "scale": {"domain": ["5% highest", "5% lowest"], "range": ["#cf6a62", "#5b86b8"]},
       "legend": {"orient": "top-right", "offset": 14, "labelFontSize": 8.5, "symbolType": "circle", "symbolSize": 22, "symbolStrokeColor": "#333333", "symbolStrokeWidth": 0.6, "labelOffset": 10, "rowPadding": 2,
         "encode": {"symbols": {"update": {"shape": {"signal": "datum.value === '5% highest' ? 'circle' : 'square'"}}}}}}}},
    {"data": {"name": "tss_h"}, "mark": {"type": "point", "shape": "square", "filled": true, "size": 20, "stroke": "#4a1f1c", "strokeWidth": 0.6, "opacity": 1},
     "encoding": {"color": {"datum": "5% highest"}}}
   ]},
  {"title": "HepG2 gene center", "width": 209, "height": 195,
   "encoding": {"x": {"field": "x", "type": "quantitative", "title": "Distance from gene center", "scale": {"domain": [-270, 270], "nice": false, "zero": false}, "axis": {"values": [-200, -100, 0, 100, 200], "labelExpr": "toString(datum.value)"}},
                "y": {"field": "y", "type": "quantitative", "title": "CpG frequency", "scale": {"domain": [-0.0064, 0.1664], "nice": false, "zero": false}, "axis": {"values": [0, 0.05, 0.1, 0.15], "format": ".2f"}}},
   "layer": [
    {"data": {"name": "gc_l"}, "mark": {"type": "point", "shape": "circle", "filled": true, "size": 20, "fill": "#5b86b8", "stroke": "#1e2d42", "strokeWidth": 0.6, "opacity": 1}},
    {"data": {"name": "gc_h"}, "mark": {"type": "point", "shape": "square", "filled": true, "size": 20, "fill": "#cf6a62", "stroke": "#4a1f1c", "strokeWidth": 0.6, "opacity": 1}}
   ]},
  {"title": "HepG2 TTS", "width": 209, "height": 195,
   "encoding": {"x": {"field": "x", "type": "quantitative", "title": "Distance from TTS", "scale": {"domain": [-520, 20], "nice": false, "zero": false}, "axis": {"values": [-500, -400, -300, -200, -100, 0], "labelExpr": "toString(datum.value)"}},
                "y": {"field": "y", "type": "quantitative", "title": "CpG frequency", "scale": {"domain": [-0.0064, 0.1664], "nice": false, "zero": false}, "axis": {"values": [0, 0.05, 0.1, 0.15], "format": ".2f"}}},
   "layer": [
    {"data": {"name": "tts_l"}, "mark": {"type": "point", "shape": "circle", "filled": true, "size": 20, "fill": "#5b86b8", "stroke": "#1e2d42", "strokeWidth": 0.6, "opacity": 1}},
    {"data": {"name": "tts_h"}, "mark": {"type": "point", "shape": "square", "filled": true, "size": 20, "fill": "#cf6a62", "stroke": "#4a1f1c", "strokeWidth": 0.6, "opacity": 1}}
   ]}
 ]
},
{
 "title": {"text": "(b)", "anchor": "start", "fontSize": 18, "fontWeight": "normal", "color": "#222222", "offset": -16},
 "spacing": 24,
 "resolve": {"scale": {"color": "independent"}, "legend": {"color": "independent"}},
 "vconcat": [
  {"spacing": 5, "resolve": {"scale": {"color": "independent"}, "legend": {"color": "independent"}},
   "hconcat": [
    {"title": "CpG frequency", "width": 209, "height": 194, "layer": [
      {"data": {"values": [{}]}, "mark": {"type": "rule", "color": "#c4c4c4", "strokeWidth": 1}, "encoding": {"x": {"datum": 0, "type": "quantitative", "axis": {"values": [-1500, -1000, -500, 0, 500, 1000, 1500], "labelExpr": "toString(datum.value)", "labelOverlap": false}}}},
      {"encoding": {"x": {"field": "x", "type": "quantitative", "title": "Distance from TSS", "scale": {"domain": [-1850, 1850], "nice": false, "zero": false}, "axis": {"values": [-1500, -1000, -500, 0, 500, 1000, 1500], "labelExpr": "toString(datum.value)", "labelOverlap": false}},
                    "y": {"field": "y", "type": "quantitative", "title": "CpG frequency", "scale": {"domain": [-0.0048, 0.1248], "nice": false, "zero": false}, "axis": {"values": [0, 0.02, 0.04, 0.06, 0.08, 0.1, 0.12], "format": ".2f"}}},
       "layer": [
        {"data": {"name": "cpg_h"}, "mark": {"type": "line", "strokeWidth": 1.3, "clip": true}, "encoding": {"color": {"datum": "5% highest", "scale": {"domain": ["5% highest", "5% lowest", "non-expressed"], "range": ["#e8524a", "#4a8bd4", "#1a1a1a"]}}}},
        {"data": {"name": "cpg_l"}, "mark": {"type": "line", "strokeWidth": 1.3, "clip": true}, "encoding": {"color": {"datum": "5% lowest"}}},
        {"data": {"name": "cpg_n"}, "mark": {"type": "line", "strokeWidth": 1.8, "clip": true}, "encoding": {"color": {"datum": "non-expressed"}}}
       ]}
    ]},
    {"title": "CpG islands", "width": 209, "height": 194, "layer": [
      {"data": {"values": [{}]}, "mark": {"type": "rule", "color": "#c4c4c4", "strokeWidth": 1}, "encoding": {"x": {"datum": 0, "type": "quantitative", "axis": {"values": [-1500, -1000, -500, 0, 500, 1000, 1500], "labelExpr": "toString(datum.value)", "labelOverlap": false}}}},
      {"encoding": {"x": {"field": "x", "type": "quantitative", "title": "Distance from TSS", "scale": {"domain": [-1850, 1850], "nice": false, "zero": false}, "axis": {"values": [-1500, -1000, -500, 0, 500, 1000, 1500], "labelExpr": "toString(datum.value)", "labelOverlap": false}},
                    "y": {"field": "y", "type": "quantitative", "title": "CpG islands", "scale": {"domain": [-4, 104], "nice": false, "zero": false}, "axis": {"values": [0, 20, 40, 60, 80, 100]}}},
       "layer": [
        {"data": {"name": "isl_h"}, "mark": {"type": "line", "strokeWidth": 1.3, "clip": true}, "encoding": {"color": {"datum": "5% highest", "scale": {"domain": ["5% highest", "5% lowest", "non-expressed"], "range": ["#e8524a", "#4a8bd4", "#1a1a1a"]}}}},
        {"data": {"name": "isl_l"}, "mark": {"type": "line", "strokeWidth": 1.3, "clip": true}, "encoding": {"color": {"datum": "5% lowest"}}},
        {"data": {"name": "isl_n"}, "mark": {"type": "line", "strokeWidth": 1.8, "clip": true}, "encoding": {"color": {"datum": "non-expressed"}}}
       ]}
    ]},
    {"title": "GC content", "width": 209, "height": 194, "layer": [
      {"data": {"values": [{}]}, "mark": {"type": "rule", "color": "#c4c4c4", "strokeWidth": 1}, "encoding": {"x": {"datum": 0, "type": "quantitative", "axis": {"values": [-1500, -1000, -500, 0, 500, 1000, 1500], "labelExpr": "toString(datum.value)", "labelOverlap": false}}}},
      {"encoding": {"x": {"field": "x", "type": "quantitative", "title": "Distance from TSS", "scale": {"domain": [-1850, 1850], "nice": false, "zero": false}, "axis": {"values": [-1500, -1000, -500, 0, 500, 1000, 1500], "labelExpr": "toString(datum.value)", "labelOverlap": false}},
                    "y": {"field": "y", "type": "quantitative", "title": "GC content", "scale": {"domain": [0.388, 0.712], "nice": false, "zero": false}, "axis": {"values": [0.4, 0.45, 0.5, 0.55, 0.6, 0.65, 0.7], "format": ".2f"}}},
       "layer": [
        {"data": {"name": "gcc_h"}, "mark": {"type": "line", "strokeWidth": 1.3, "clip": true}, "encoding": {"color": {"datum": "5% highest", "scale": {"domain": ["5% highest", "5% lowest", "non-expressed"], "range": ["#e8524a", "#4a8bd4", "#1a1a1a"]}}}},
        {"data": {"name": "gcc_l"}, "mark": {"type": "line", "strokeWidth": 1.3, "clip": true}, "encoding": {"color": {"datum": "5% lowest"}}},
        {"data": {"name": "gcc_n"}, "mark": {"type": "line", "strokeWidth": 1.8, "clip": true}, "encoding": {"color": {"datum": "non-expressed"}}}
       ]}
    ]}
   ]},
  {"spacing": 5, "resolve": {"scale": {"color": "independent"}, "legend": {"color": "independent"}},
   "hconcat": [
    {"title": "Conserved TF binding sites", "width": 209, "height": 193, "layer": [
      {"data": {"values": [{}]}, "mark": {"type": "rule", "color": "#c4c4c4", "strokeWidth": 1}, "encoding": {"x": {"datum": 0, "type": "quantitative", "axis": {"values": [-1500, -1000, -500, 0, 500, 1000, 1500], "labelExpr": "toString(datum.value)", "labelOverlap": false}}}},
      {"encoding": {"x": {"field": "x", "type": "quantitative", "title": "Distance from TSS", "scale": {"domain": [-1850, 1850], "nice": false, "zero": false}, "axis": {"values": [-1500, -1000, -500, 0, 500, 1000, 1500], "labelExpr": "toString(datum.value)", "labelOverlap": false}},
                    "y": {"field": "y", "type": "quantitative", "title": "TF frequency", "scale": {"domain": [-0.4, 10.4], "nice": false, "zero": false}, "axis": {"values": [0, 2, 4, 6, 8, 10]}}},
       "layer": [
        {"data": {"name": "tf_h"}, "mark": {"type": "line", "strokeWidth": 1.3, "clip": true}, "encoding": {"color": {"datum": "5% highest", "scale": {"domain": ["5% highest", "5% lowest", "non-expressed"], "range": ["#e8524a", "#4a8bd4", "#1a1a1a"]}}}},
        {"data": {"name": "tf_l"}, "mark": {"type": "line", "strokeWidth": 1.3, "clip": true}, "encoding": {"color": {"datum": "5% lowest"}}},
        {"data": {"name": "tf_n"}, "mark": {"type": "line", "strokeWidth": 1.8, "clip": true}, "encoding": {"color": {"datum": "non-expressed"}}}
       ]}
    ]},
    {"title": "ChIP-Seq clusters", "width": 209, "height": 193, "layer": [
      {"data": {"values": [{}]}, "mark": {"type": "rule", "color": "#c4c4c4", "strokeWidth": 1}, "encoding": {"x": {"datum": 0, "type": "quantitative", "axis": {"values": [-1500, -1000, -500, 0, 500, 1000, 1500], "labelExpr": "toString(datum.value)", "labelOverlap": false}}}},
      {"encoding": {"x": {"field": "x", "type": "quantitative", "title": "Distance from TSS", "scale": {"domain": [-1850, 1850], "nice": false, "zero": false}, "axis": {"values": [-1500, -1000, -500, 0, 500, 1000, 1500], "labelExpr": "toString(datum.value)", "labelOverlap": false}},
                    "y": {"field": "y", "type": "quantitative", "title": "TF frequency", "scale": {"domain": [-2.8, 72.8], "nice": false, "zero": false}, "axis": {"values": [0, 10, 20, 30, 40, 50, 60, 70]}}},
       "layer": [
        {"data": {"name": "chip_h"}, "mark": {"type": "line", "strokeWidth": 1.3, "clip": true}, "encoding": {"color": {"datum": "5% highest", "scale": {"domain": ["5% highest", "5% lowest", "non-expressed"], "range": ["#e8524a", "#4a8bd4", "#1a1a1a"]}}}},
        {"data": {"name": "chip_l"}, "mark": {"type": "line", "strokeWidth": 1.3, "clip": true}, "encoding": {"color": {"datum": "5% lowest"}}},
        {"data": {"name": "chip_n"}, "mark": {"type": "line", "strokeWidth": 1.8, "clip": true}, "encoding": {"color": {"datum": "non-expressed"}}}
       ]}
    ]},
    {"title": "CpG_MI islands", "width": 209, "height": 193, "layer": [
      {"data": {"values": [{}]}, "mark": {"type": "rule", "color": "#c4c4c4", "strokeWidth": 1}, "encoding": {"x": {"datum": 0, "type": "quantitative", "axis": {"values": [-1500, -1000, -500, 0, 500, 1000, 1500], "labelExpr": "toString(datum.value)", "labelOverlap": false}}}},
      {"encoding": {"x": {"field": "x", "type": "quantitative", "title": "Distance from TSS", "scale": {"domain": [-1850, 1850], "nice": false, "zero": false}, "axis": {"values": [-1500, -1000, -500, 0, 500, 1000, 1500], "labelExpr": "toString(datum.value)", "labelOverlap": false}},
                    "y": {"field": "y", "type": "quantitative", "title": "CpG islands", "scale": {"domain": [-1.6, 41.6], "nice": false, "zero": false}, "axis": {"values": [0, 10, 20, 30, 40]}}},
       "layer": [
        {"data": {"name": "mi_h"}, "mark": {"type": "line", "strokeWidth": 1.3, "clip": true}, "encoding": {"color": {"datum": "5% highest", "scale": {"domain": ["5% highest", "5% lowest", "non-expressed"], "range": ["#e8524a", "#4a8bd4", "#1a1a1a"]}}}},
        {"data": {"name": "mi_l"}, "mark": {"type": "line", "strokeWidth": 1.3, "clip": true}, "encoding": {"color": {"datum": "5% lowest"}}},
        {"data": {"name": "mi_n"}, "mark": {"type": "line", "strokeWidth": 1.8, "clip": true}, "encoding": {"color": {"datum": "non-expressed"}}}
       ]}
    ]}
   ]}
 ]
}
]
}
